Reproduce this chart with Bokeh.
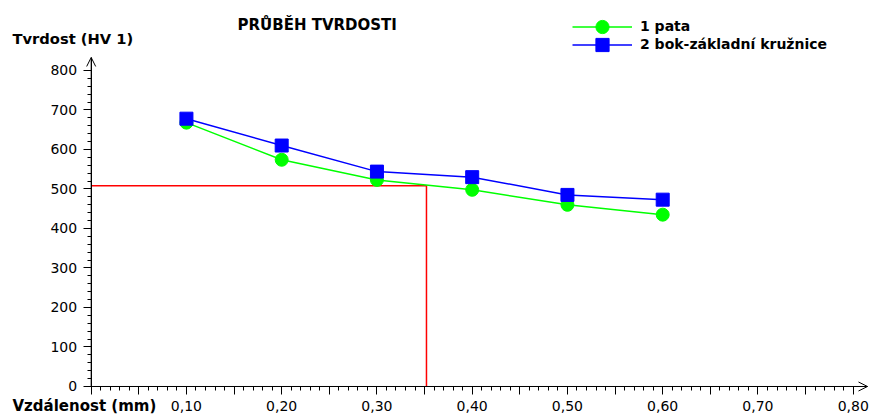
import numpy as np
from bokeh.plotting import figure
from bokeh.models import (Range1d, FixedTicker, CustomJSTickFormatter, Label,
                          Legend, LegendItem, Arrow, OpenHead)
from bokeh.embed import file_html
from bokeh.resources import INLINE

# ---- data ----
title_text = "PRŮBĚH TVRDOSTI"
y_label_text = "Tvrdost (HV 1)"
x_label_text = "Vzdálenost (mm)"
series_names = ["1 pata", "2 bok-základní kružnice"]
distance = [0.10, 0.20, 0.30, 0.40, 0.50, 0.60]
pata = [668, 574, 523, 498, 460, 435]
bok = [678, 610, 544, 530, 485, 473]
ref_distance = [0.0, 0.352, 0.352]
ref_hardness = [508, 508, 0]
y_major = list(range(0, 801, 100))
y_minor = list(range(0, 801, 20))
x_major = [round(v, 2) for v in np.arange(0, 0.801, 0.05)]
x_minor = [round(v, 2) for v in np.arange(0, 0.801, 0.01)]
x_axis_end = 0.815
y_axis_end = 833

FONT = "DejaVu Sans"
W, H = 869, 417

p = figure(width=W, height=H, x_range=Range1d(-0.0952, 0.8171), y_range=Range1d(-78.5, 977.2),
           output_backend="svg", toolbar_location=None,
           min_border_left=0, min_border_right=0, min_border_top=0, min_border_bottom=0)
p.title.visible = False
p.outline_line_color = None
p.xgrid.grid_line_color = None
p.ygrid.grid_line_color = None
p.background_fill_color = "white"
p.border_fill_color = "white"

# axes (drawn at the data origin, inside the frame)
xa = p.xaxis[0]
xa.ticker = FixedTicker(ticks=x_major, minor_ticks=x_minor)
xa.formatter = CustomJSTickFormatter(code="""
const v = Math.round(tick*100);
if (v === 0 || v % 10 !== 0) { return ''; }
return tick.toFixed(2).replace('.', ',');
""")
xa.fixed_location = 0
xa.bounds = (0, x_axis_end)
ya = p.yaxis[0]
ya.ticker = FixedTicker(ticks=y_major, minor_ticks=y_minor)
ya.fixed_location = 0
ya.bounds = (0, y_axis_end)
for ax in (xa, ya):
    ax.axis_line_color = "black"
    ax.major_tick_line_color = "black"
    ax.minor_tick_line_color = "black"
    ax.major_tick_in = 0
    ax.minor_tick_in = 0
    ax.major_tick_out = 8
    ax.minor_tick_out = 4
    ax.major_label_text_font = FONT
    ax.major_label_text_font_size = "14px"
    ax.major_label_text_color = "black"
xa.major_label_standoff = 7
ya.major_label_standoff = 6

# reference lines
p.line(ref_distance, ref_hardness, line_color="#ff0000", line_width=1.5)

# series
gl = p.line(distance, pata, line_color="#00ff00", line_width=1.5)
gm = p.scatter(distance, pata, marker="circle", size=13, fill_color="#00ff00", line_color="#00ff00")
bl = p.line(distance, bok, line_color="#0000ff", line_width=1.5)
bm = p.scatter(distance, bok, marker="square", size=13, fill_color="#0000ff", line_color="#0000ff")

# axis arrows
p.add_layout(Arrow(end=OpenHead(size=9, line_color="black", line_width=1),
                   x_start=0, y_start=0, x_end=0, y_end=y_axis_end, line_color="black", line_width=1))
p.add_layout(Arrow(end=OpenHead(size=9, line_color="black", line_width=1),
                   x_start=0, y_start=0, x_end=x_axis_end, y_end=0, line_color="black", line_width=1))

# texts
p.add_layout(Label(x=237, y=H - 24.7, x_units="screen", y_units="screen", text=title_text,
                   text_font=FONT, text_font_style="bold", text_font_size="15px",
                   text_baseline="middle", text_color="black"))
p.add_layout(Label(x=12, y=H - 38, x_units="screen", y_units="screen", text=y_label_text,
                   text_font=FONT, text_font_style="bold", text_font_size="14.7px",
                   text_baseline="middle", text_color="black"))
p.add_layout(Label(x=12, y=H - 405.3, x_units="screen", y_units="screen", text=x_label_text,
                   text_font=FONT, text_font_style="bold", text_font_size="15px",
                   text_baseline="middle", text_color="black"))

# legend: one row per legend so the rows can sit closer than the marker height
legend_style = dict(glyph_width=60, glyph_height=33, label_height=18,
                    label_standoff=8, padding=0, margin=0, spacing=0,
                    border_line_alpha=0, background_fill_alpha=0,
                    label_text_font=FONT, label_text_font_style="bold",
                    label_text_font_size="14px", label_text_color="black")
row_bottoms = [42.5, 60.5]
for name, rends, bottom in zip(series_names, [[gl, gm], [bl, bm]], row_bottoms):
    p.add_layout(Legend(items=[LegendItem(label=name, renderers=rends)],
                        location=(572, H - bottom), **legend_style))

open("out.html", "w").write(file_html(p, INLINE))
